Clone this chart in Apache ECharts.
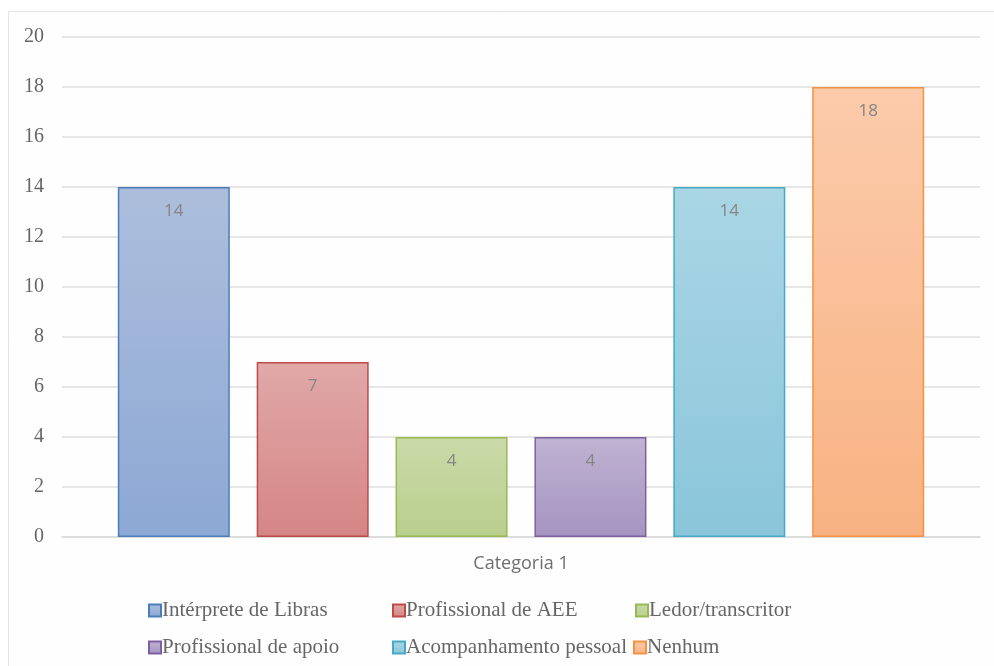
<!DOCTYPE html>
<html>
<head>
<meta charset="utf-8">
<script src="https://cdn.jsdelivr.net/npm/echarts@6/dist/echarts.min.js"></script>
<style>
  html, body { margin: 0; padding: 0; background: #ffffff; }
  #chart { width: 994px; height: 666px; }
</style>
</head>
<body>
<div id="chart"></div>
<script>
// Data
const categories = ['Categoria 1'];
const seriesNames = [
  'Intérprete de Libras',
  'Profissional de AEE',
  'Ledor/transcritor',
  'Profissional de apoio',
  'Acompanhamento pessoal',
  'Nenhum'
];
const seriesValues = [14, 7, 4, 4, 14, 18];
const yTicks = [0, 2, 4, 6, 8, 10, 12, 14, 16, 18, 20];

// Styling per series: [top colour, bottom colour, border]
const palette = [
  ['#adbedc', '#8ca8d4', '#4a7ebb'],
  ['#e0a9a8', '#d58585', '#be4b48'],
  ['#cadaa9', '#b9cf8c', '#98b954'],
  ['#c0b3d3', '#a594c0', '#7d60a0'],
  ['#aad6e5', '#8ac5da', '#46aac5'],
  ['#fbcbab', '#f8b282', '#f69240']
];

// Legend item positions (two rows, left/top in px)
const legendPos = [
  [148, 600], [392, 600], [635, 600],
  [148, 637], [392, 637], [633, 637]
];

const serif = '"Liberation Serif", "DejaVu Serif", serif';
const sans = '"Open Sans", "Noto Sans", sans-serif';

const chart = echarts.init(document.getElementById('chart'), null, { renderer: 'canvas' });

const series = seriesNames.map((name, i) => ({
  name: name,
  type: 'bar',
  data: [seriesValues[i]],
  barWidth: 112,
  barGap: '24%',
  itemStyle: {
    color: new echarts.graphic.LinearGradient(0, 0, 0, 1, [
      { offset: 0, color: palette[i][0] },
      { offset: 1, color: palette[i][1] }
    ]),
    borderColor: palette[i][2],
    borderWidth: 1.5
  },
  label: {
    show: true,
    position: 'insideTop',
    distance: 16,
    color: '#858585',
    fontFamily: sans,
    fontSize: 17
  }
}));

const legends = seriesNames.map((name, i) => ({
  data: [name],
  left: legendPos[i][0],
  top: legendPos[i][1],
  orient: 'horizontal',
  padding: 0,
  itemWidth: 12,
  itemHeight: 12,
  itemGap: 0,
  icon: 'rect',
  selectedMode: false,
  textStyle: {
    color: '#666666',
    fontFamily: serif,
    fontSize: 21,
    padding: [0, 0, 0, -4]
  }
}));

chart.setOption({
  backgroundColor: '#ffffff',
  animation: false,
  graphic: [{
    type: 'rect',
    left: 8,
    top: 11,
    shape: { width: 1000, height: 700 },
    style: { fill: '#fefefe', stroke: '#e3e3e3', lineWidth: 1 },
    z: -10,
    silent: true
  }],
  legend: legends,
  grid: { left: 62, right: 14, top: 37, bottom: 129, containLabel: false },
  xAxis: {
    type: 'category',
    data: categories,
    axisLine: { show: true, lineStyle: { color: '#d9d9d9', width: 1.5 } },
    axisTick: { show: false },
    axisLabel: {
      color: '#6e6e6e',
      fontFamily: sans,
      fontSize: 18,
      margin: 18
    }
  },
  yAxis: {
    type: 'value',
    min: yTicks[0],
    max: yTicks[yTicks.length - 1],
    interval: yTicks[1] - yTicks[0],
    axisLine: { show: false },
    axisTick: { show: false },
    axisLabel: {
      color: '#666666',
      fontFamily: serif,
      fontSize: 20,
      margin: 18
    },
    splitLine: { lineStyle: { color: '#dedede', width: 1.5 } }
  },
  series: series
});
</script>
</body>
</html>
